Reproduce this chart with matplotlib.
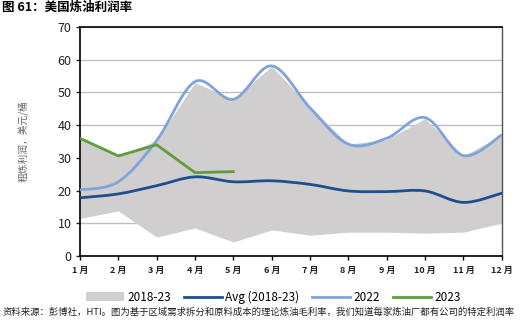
import matplotlib.pyplot as plt
import numpy as np
from matplotlib.path import Path
from matplotlib.patches import PathPatch, Patch
from matplotlib.lines import Line2D

plt.rcParams['font.family'] = ['Noto Sans CJK SC', 'DejaVu Sans']

months = [1, 2, 3, 4, 5, 6, 7, 8, 9, 10, 11, 12]
month_labels = ["1 月", "2 月", "3 月", "4 月", "5 月", "6 月",
                "7 月", "8 月", "9 月", "10 月", "11 月", "12 月"]

# 2018-23 range (min / max per month)
range_low = [11.5, 13.8, 5.8, 8.6, 4.3, 8.0, 6.4, 7.3, 7.3, 7.0, 7.3, 10.1]
range_high = [36.0, 30.6, 35.3, 53.0, 47.9, 58.0, 45.5, 34.2, 35.6, 42.0, 30.6, 37.0]
avg_1823 = [17.8, 19.0, 21.5, 24.2, 22.7, 23.0, 21.9, 19.9, 19.7, 19.9, 16.4, 19.2]
y2022 = [20.2, 22.7, 35.3, 53.3, 47.9, 58.1, 45.3, 34.2, 36.0, 42.3, 30.7, 37.0]
y2023 = [36.0, 30.6, 34.0, 25.5, 25.8]

c_range = '#d0cece'
c_avg = '#1f4e8c'
c_2022 = '#7fa3da'
c_2023 = '#5e9e3a'


def smooth_path(xs, ys):
    # smoothed line as cubic bezier segments (Catmull-Rom style control points)
    pts = np.column_stack([xs, ys]).astype(float)
    n = len(pts)
    verts = [pts[0]]
    codes = [Path.MOVETO]
    for i in range(n - 1):
        p0 = pts[i - 1] if i > 0 else pts[i]
        p1 = pts[i]
        p2 = pts[i + 1]
        p3 = pts[i + 2] if i + 2 < n else pts[i + 1]
        c1 = p1 + (p2 - p0) / 6.0
        c2 = p2 - (p3 - p1) / 6.0
        verts += [c1, c2, p2]
        codes += [Path.CURVE4] * 3
    return Path(verts, codes)


fig = plt.figure(figsize=(5.26, 3.33), dpi=100)
ax = fig.add_axes([0.152, 0.231, 0.802, 0.688])

ax.fill_between(months, range_low, range_high, color=c_range, lw=0, zorder=2)

ax.add_patch(PathPatch(smooth_path(months, avg_1823), fill=False,
                       edgecolor=c_avg, lw=2.0, zorder=4, capstyle='round'))
ax.add_patch(PathPatch(smooth_path(months, y2022), fill=False,
                       edgecolor=c_2022, lw=2.0, zorder=4, capstyle='round'))
ax.plot(months[:len(y2023)], y2023, color=c_2023, lw=2.0, zorder=5)

ax.set_xlim(1, 12)
ax.set_ylim(0, 70)
ax.set_yticks(range(0, 71, 10))
ax.set_xticks(months)
ax.set_xticklabels(month_labels, fontsize=6.5, fontweight='bold', color='#222222')
ax.tick_params(axis='y', labelsize=9, colors='#222222', length=3, width=1, pad=3)
ax.tick_params(axis='x', length=3, width=1, pad=4)
ax.grid(axis='y', color='#bfbfbf', lw=1, zorder=1)
ax.set_axisbelow(True)
for side in ['left', 'bottom', 'top']:
    ax.spines[side].set_color('#111111')
    ax.spines[side].set_linewidth(1.3)
ax.spines['right'].set_color('#555555')
ax.spines['right'].set_linewidth(1.0)

ax.set_ylabel("粗炼利润，美元/桶", fontsize=7, color='#666666', labelpad=20)

handles = [Patch(facecolor=c_range, edgecolor='none'),
           Line2D([], [], color=c_avg, lw=2),
           Line2D([], [], color=c_2022, lw=2),
           Line2D([], [], color=c_2023, lw=2)]
fig.legend(handles, ["2018-23", "Avg (2018-23)", "2022", "2023"],
           loc='center', bbox_to_anchor=(0.52, 0.108), ncol=4, frameon=False,
           fontsize=8.5, handlelength=3.2, handletextpad=0.3, columnspacing=1.1)

fig.text(0.004, 0.978, "图 61：美国炼油利润率", fontsize=9, fontweight='bold',
         ha='left', va='center')
fig.text(0.004, 0.062,
         "资料来源：彭博社，HTI。图为基于区域需求拆分和原料成本的理论炼油毛利率，我们知道每家炼油厂都有公司的特定利润率",
         fontsize=6.75, ha='left', va='center', color='#222222')

fig.savefig('out.png', dpi=100, facecolor='w')
